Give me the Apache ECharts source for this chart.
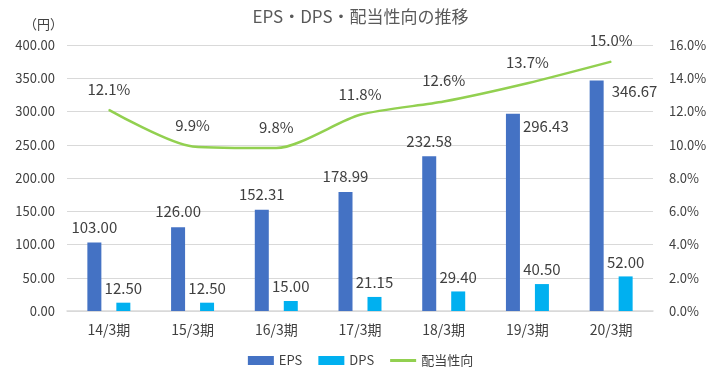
<!DOCTYPE html>
<html><head><meta charset="utf-8">
<script src="https://cdn.jsdelivr.net/npm/echarts@6/dist/echarts.min.js"></script>
<style>html,body{margin:0;padding:0;background:#fff}#c{width:721px;height:378px}</style>
</head><body><div id="c"></div>
<script>
const categories = ['14/3期','15/3期','16/3期','17/3期','18/3期','19/3期','20/3期'];
const eps = [103.00, 126.00, 152.31, 178.99, 232.58, 296.43, 346.67];
const dps = [12.50, 12.50, 15.00, 21.15, 29.40, 40.50, 52.00];
const payout = [12.1, 9.9, 9.8, 11.8, 12.6, 13.7, 15.0];
const leftTicks = {min: 0, max: 400, interval: 50};
const rightTicks = {min: 0, max: 16, interval: 2};

const font = '"Noto Sans CJK JP", "Noto Sans", sans-serif';
const txt = '#404040';
const green = '#92D050';
const sideLabel = {5: [17, 12], 6: [22, 11]};
const chart = echarts.init(document.getElementById('c'));
chart.setOption({
  animation: false,
  textStyle: {fontFamily: font},
  title: {text: 'EPS・DPS・配当性向の推移', left: 'center', top: 3,
    textStyle: {fontSize: 17, fontWeight: 'normal', color: '#595959', fontFamily: font}},
  grid: {left: 67, right: 68, top: 45, bottom: 67},
  legend: {bottom: 6, left: 'center', itemWidth: 26, itemHeight: 9, itemGap: 16,
    textStyle: {fontSize: 13, color: txt},
    data: [{name: 'EPS', icon: 'rect'}, {name: 'DPS', icon: 'rect'},
      {name: '配当性向', icon: 'path://M0,0 L26,0 L26,3 L0,3 Z'}]},
  xAxis: {type: 'category', data: categories,
    axisLine: {lineStyle: {color: '#d9d9d9', width: 1.5}}, axisTick: {show: false},
    axisLabel: {color: txt, fontSize: 14, margin: 12}},
  yAxis: [
    {type: 'value', min: leftTicks.min, max: leftTicks.max, interval: leftTicks.interval,
      name: '（円）', nameLocation: 'end', nameGap: 14,
      nameTextStyle: {color: txt, fontSize: 13, align: 'right', padding: [0, 4, 0, 0]},
      axisLine: {show: false}, axisTick: {show: false},
      splitLine: {lineStyle: {color: '#d9d9d9'}},
      axisLabel: {color: txt, fontSize: 13, margin: 12, formatter: v => v.toFixed(2)}},
    {type: 'value', min: rightTicks.min, max: rightTicks.max, interval: rightTicks.interval,
      axisLine: {show: false}, axisTick: {show: false}, splitLine: {show: false},
      axisLabel: {color: txt, fontSize: 13, margin: 16, formatter: v => v.toFixed(1) + '%'}}
  ],
  series: [
    {name: 'EPS', type: 'bar', data: eps.map((v, i) => sideLabel[i] ?
        {value: v, label: {position: sideLabel[i], align: 'left', verticalAlign: 'middle'}} : v),
      barWidth: 14, barGap: '107%', itemStyle: {color: '#4472C4'},
      label: {show: true, position: 'top', distance: 8, color: txt, fontSize: 15,
        formatter: p => p.value.toFixed(2)}},
    {name: 'DPS', type: 'bar', data: dps, barWidth: 14, itemStyle: {color: '#00B0F0'},
      label: {show: true, position: 'top', distance: 7, color: txt, fontSize: 15,
        formatter: p => p.value.toFixed(2)}},
    {name: '配当性向', type: 'line', yAxisIndex: 1, data: payout, smooth: 0.25,
      symbol: 'circle', symbolSize: 1, showSymbol: true,
      lineStyle: {color: green, width: 2.5}, itemStyle: {color: green},
      label: {show: true, position: 'top', distance: 13, color: txt, fontSize: 15,
        formatter: p => p.value.toFixed(1) + '%'}}
  ]
});
</script></body></html>
